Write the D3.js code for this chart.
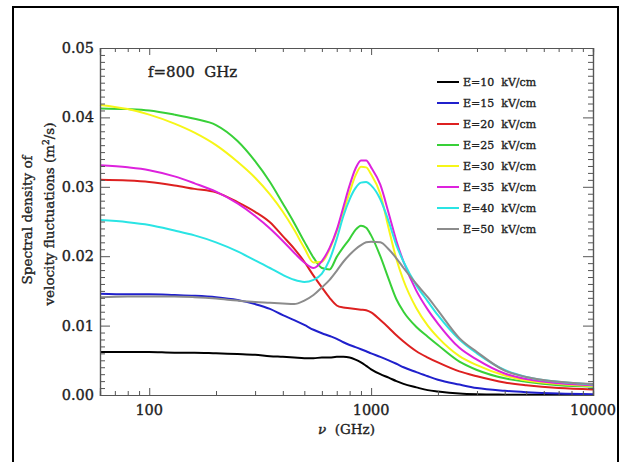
<!DOCTYPE html>
<html>
<head>
<meta charset="utf-8">
<script src="https://cdn.jsdelivr.net/npm/d3@7"></script>
<style>
  html, body { margin: 0; padding: 0; background: #fff; }
  svg { display: block; }
  text { font-family: "DejaVu Serif", "Liberation Serif", serif; fill: #222; stroke: #222; stroke-width: 0.35px; }
</style>
</head>
<body>
<svg id="chart" width="621" height="462"></svg>
<script>
// Frequency grid (GHz) shared by all field strengths
const freqGHz = [60, 80, 100, 130, 160, 200, 250, 300, 350, 400, 450, 500, 550, 600, 650, 700,
  750, 800, 850, 900, 950, 1000, 1100, 1200, 1300, 1400, 1600, 1800, 2000, 2500, 3000,
  4000, 5000, 7000, 10000];

// Spectral density of velocity fluctuations (m^2/s), one array per field
const e10 = [0.0062, 0.0062, 0.0062, 0.0061, 0.0061, 0.0060, 0.0059, 0.0058, 0.0056, 0.0055, 0.0054, 0.0053, 0.0053, 0.0054, 0.0054, 0.0055,
  0.0055, 0.0054, 0.0051, 0.0047, 0.0042, 0.0037, 0.0030, 0.0025, 0.0020, 0.0016, 0.0011, 0.0007, 0.0005, 0.0002, 0.0001,
  0.00005, 0.00003, 0.00002, 0.00001];
const e15 = [0.0146, 0.0145, 0.0145, 0.0144, 0.0143, 0.0141, 0.0137, 0.0131, 0.0124, 0.0115, 0.0108, 0.0101, 0.0094, 0.0089, 0.0085, 0.0081,
  0.0076, 0.0072, 0.0069, 0.0066, 0.0063, 0.0060, 0.0055, 0.0050, 0.0045, 0.0040, 0.0033, 0.0027, 0.0022, 0.0015, 0.0010,
  0.0006, 0.0004, 0.0002, 0.0001];
const e20 = [0.0310, 0.0309, 0.0307, 0.0302, 0.0297, 0.0292, 0.0278, 0.0264, 0.0249, 0.0229, 0.0211, 0.0192, 0.0172, 0.0155, 0.0140, 0.0129,
  0.0126, 0.0125, 0.0124, 0.0123, 0.0122, 0.0119, 0.0108, 0.0097, 0.0086, 0.0077, 0.0063, 0.0054, 0.0047, 0.0034, 0.0027,
  0.0018, 0.0014, 0.0010, 0.0008];
const e25 = [0.0413, 0.0412, 0.0410, 0.0404, 0.0398, 0.0389, 0.0366, 0.0337, 0.0307, 0.0276, 0.0248, 0.0221, 0.0198, 0.0183, 0.0181, 0.0199,
  0.0213, 0.0225, 0.0238, 0.0244, 0.0241, 0.0230, 0.0200, 0.0167, 0.0138, 0.0120, 0.0098, 0.0084, 0.0072, 0.0048, 0.0036,
  0.0024, 0.0019, 0.0014, 0.0012];
const e30 = [0.0418, 0.0412, 0.0404, 0.0391, 0.0378, 0.0360, 0.0336, 0.0313, 0.0289, 0.0264, 0.0238, 0.0212, 0.0191, 0.0192, 0.0210, 0.0236,
  0.0265, 0.0292, 0.0316, 0.0329, 0.0328, 0.0318, 0.0290, 0.0240, 0.0196, 0.0165, 0.0125, 0.0100, 0.0083, 0.0056, 0.0043,
  0.0028, 0.0021, 0.0016, 0.0013];
const e35 = [0.0331, 0.0328, 0.0324, 0.0315, 0.0305, 0.0293, 0.0276, 0.0258, 0.0240, 0.0222, 0.0205, 0.0191, 0.0183, 0.0193, 0.0212, 0.0238,
  0.0271, 0.0302, 0.0326, 0.0338, 0.0338, 0.0328, 0.0303, 0.0262, 0.0222, 0.0192, 0.0150, 0.0123, 0.0103, 0.0068, 0.0051,
  0.0031, 0.0023, 0.0017, 0.0014];
const e40 = [0.0252, 0.0249, 0.0245, 0.0237, 0.0230, 0.0220, 0.0207, 0.0194, 0.0183, 0.0173, 0.0166, 0.0163, 0.0166, 0.0175, 0.0195, 0.0225,
  0.0258, 0.0282, 0.0298, 0.0306, 0.0307, 0.0302, 0.0282, 0.0250, 0.0216, 0.0192, 0.0158, 0.0135, 0.0115, 0.0080, 0.0060,
  0.0036, 0.0026, 0.0019, 0.0015];
const e50 = [0.0141, 0.0142, 0.0142, 0.0142, 0.0141, 0.0139, 0.0136, 0.0134, 0.0133, 0.0132, 0.0131, 0.0136, 0.0144, 0.0155, 0.0166, 0.0179,
  0.0192, 0.0202, 0.0210, 0.0216, 0.0220, 0.0221, 0.0220, 0.0210, 0.0197, 0.0183, 0.0160, 0.0141, 0.0122, 0.0082, 0.0062,
  0.0035, 0.0026, 0.0019, 0.0016];

const seriesLabels = ["E=10  kV/cm", "E=15  kV/cm", "E=20  kV/cm", "E=25  kV/cm",
  "E=30  kV/cm", "E=35  kV/cm", "E=40  kV/cm", "E=50  kV/cm"];
const seriesValues = [e10, e15, e20, e25, e30, e35, e40, e50];
const seriesColors = ["#000000", "#2020cc", "#dd2020", "#38d038", "#f6f618", "#dd22dd", "#2ae4e4", "#8c8c8c"];

const xTickValues = [100, 1000, 10000];
const xTickLabels = ["100", "1000", "10000"];
const yTickValues = [0, 0.01, 0.02, 0.03, 0.04, 0.05];
const yTickLabels = ["0.00", "0.01", "0.02", "0.03", "0.04", "0.05"];

const svg = d3.select("#chart");
const plot = { left: 100, right: 593, top: 48, bottom: 395 };

const x = d3.scaleLog().domain([60, 10000]).range([plot.left, plot.right]);
const y = d3.scaleLinear().domain([0, 0.05]).range([plot.bottom, plot.top]);

// Outer frame
svg.append("rect")
  .attr("x", 13).attr("y", 7).attr("width", 605).attr("height", 470)
  .attr("fill", "none").attr("stroke", "#000").attr("stroke-width", 2);

// Curves
const line = d3.line()
  .x(d => x(d[0]))
  .y(d => y(d[1]))
  .curve(d3.curveMonotoneX);

const curves = svg.append("g");
seriesValues.forEach((vals, i) => {
  curves.append("path")
    .datum(freqGHz.map((f, j) => [f, vals[j]]))
    .attr("d", line)
    .attr("fill", "none")
    .attr("stroke", seriesColors[i])
    .attr("stroke-width", 2)
    .attr("stroke-linejoin", "round");
});

// Axes: ticks pointing inward on all four sides
const minorX = [];
for (let dec = 10; dec < 10000; dec *= 10) {
  for (let k = 2; k <= 9; k++) {
    const v = k * dec;
    if (v > 60 && v < 10000) minorX.push(v);
  }
}
const minorY = d3.range(1, 50).map(k => k / 1000).filter(v => Math.abs(v * 100 - Math.round(v * 100)) > 1e-9);

const axisColor = "#555";
const ax = svg.append("g");

ax.append("g").attr("transform", `translate(0,${plot.bottom})`)
  .call(d3.axisBottom(x).tickValues(xTickValues).tickSize(-7).tickFormat(""));
ax.append("g").attr("transform", `translate(0,${plot.bottom})`)
  .call(d3.axisBottom(x).tickValues(minorX).tickSize(-4).tickFormat(""));
ax.append("g").attr("transform", `translate(0,${plot.top})`)
  .call(d3.axisTop(x).tickValues(xTickValues).tickSize(-7).tickFormat(""));
ax.append("g").attr("transform", `translate(0,${plot.top})`)
  .call(d3.axisTop(x).tickValues(minorX).tickSize(-4).tickFormat(""));
ax.append("g").attr("transform", `translate(${plot.left},0)`)
  .call(d3.axisLeft(y).tickValues(yTickValues).tickSize(-10).tickFormat(""));
ax.append("g").attr("transform", `translate(${plot.left},0)`)
  .call(d3.axisLeft(y).tickValues(minorY).tickSize(-5).tickFormat(""));
ax.append("g").attr("transform", `translate(${plot.right},0)`)
  .call(d3.axisRight(y).tickValues(yTickValues).tickSize(-10).tickFormat(""));
ax.append("g").attr("transform", `translate(${plot.right},0)`)
  .call(d3.axisRight(y).tickValues(minorY).tickSize(-5).tickFormat(""));

ax.selectAll(".domain").attr("stroke", axisColor).attr("stroke-width", 1.2);
ax.selectAll(".tick line").attr("stroke", axisColor).attr("stroke-width", 1);

// Tick labels
svg.append("g").selectAll("text")
  .data(xTickValues)
  .join("text")
  .attr("x", d => x(d))
  .attr("y", 415)
  .attr("text-anchor", "middle")
  .attr("font-size", 14.5)
  .text((d, i) => xTickLabels[i]);

svg.append("g").selectAll("text")
  .data(yTickValues)
  .join("text")
  .attr("x", 94)
  .attr("y", d => y(d) + 5)
  .attr("text-anchor", "end")
  .attr("font-size", 14.5)
  .text((d, i) => yTickLabels[i]);

// Axis titles
const xt = svg.append("text")
  .attr("x", (plot.left + plot.right) / 2)
  .attr("y", 434)
  .attr("text-anchor", "middle")
  .attr("font-size", 13.5)
  .style("white-space", "pre");
xt.append("tspan").attr("font-style", "italic").text("ν");
xt.append("tspan").text("  (GHz)");

svg.append("text")
  .attr("transform", "translate(32,220) rotate(-90)")
  .attr("text-anchor", "middle")
  .attr("font-size", 13.5)
  .text("Spectral density of");

const yt = svg.append("text")
  .attr("transform", "translate(54,214) rotate(-90)")
  .attr("text-anchor", "middle")
  .attr("font-size", 13.5);
yt.append("tspan").text("velocity fluctuations (m");
yt.append("tspan").attr("dy", -5).attr("font-size", 9).text("2");
yt.append("tspan").attr("dy", 5).text("/s)");

// Annotation
svg.append("text")
  .attr("x", 148).attr("y", 77)
  .attr("font-size", 15)
  .style("white-space", "pre")
  .text("f=800  GHz");

// Legend
const legend = svg.append("g");
seriesLabels.forEach((lab, i) => {
  const ly = 82 + i * 21;
  legend.append("line")
    .attr("x1", 437).attr("x2", 459)
    .attr("y1", ly).attr("y2", ly)
    .attr("stroke", seriesColors[i]).attr("stroke-width", 2);
  legend.append("text")
    .attr("x", 463).attr("y", ly + 4)
    .attr("font-size", 11)
    .style("white-space", "pre")
    .text(lab);
});
</script>
</body>
</html>
